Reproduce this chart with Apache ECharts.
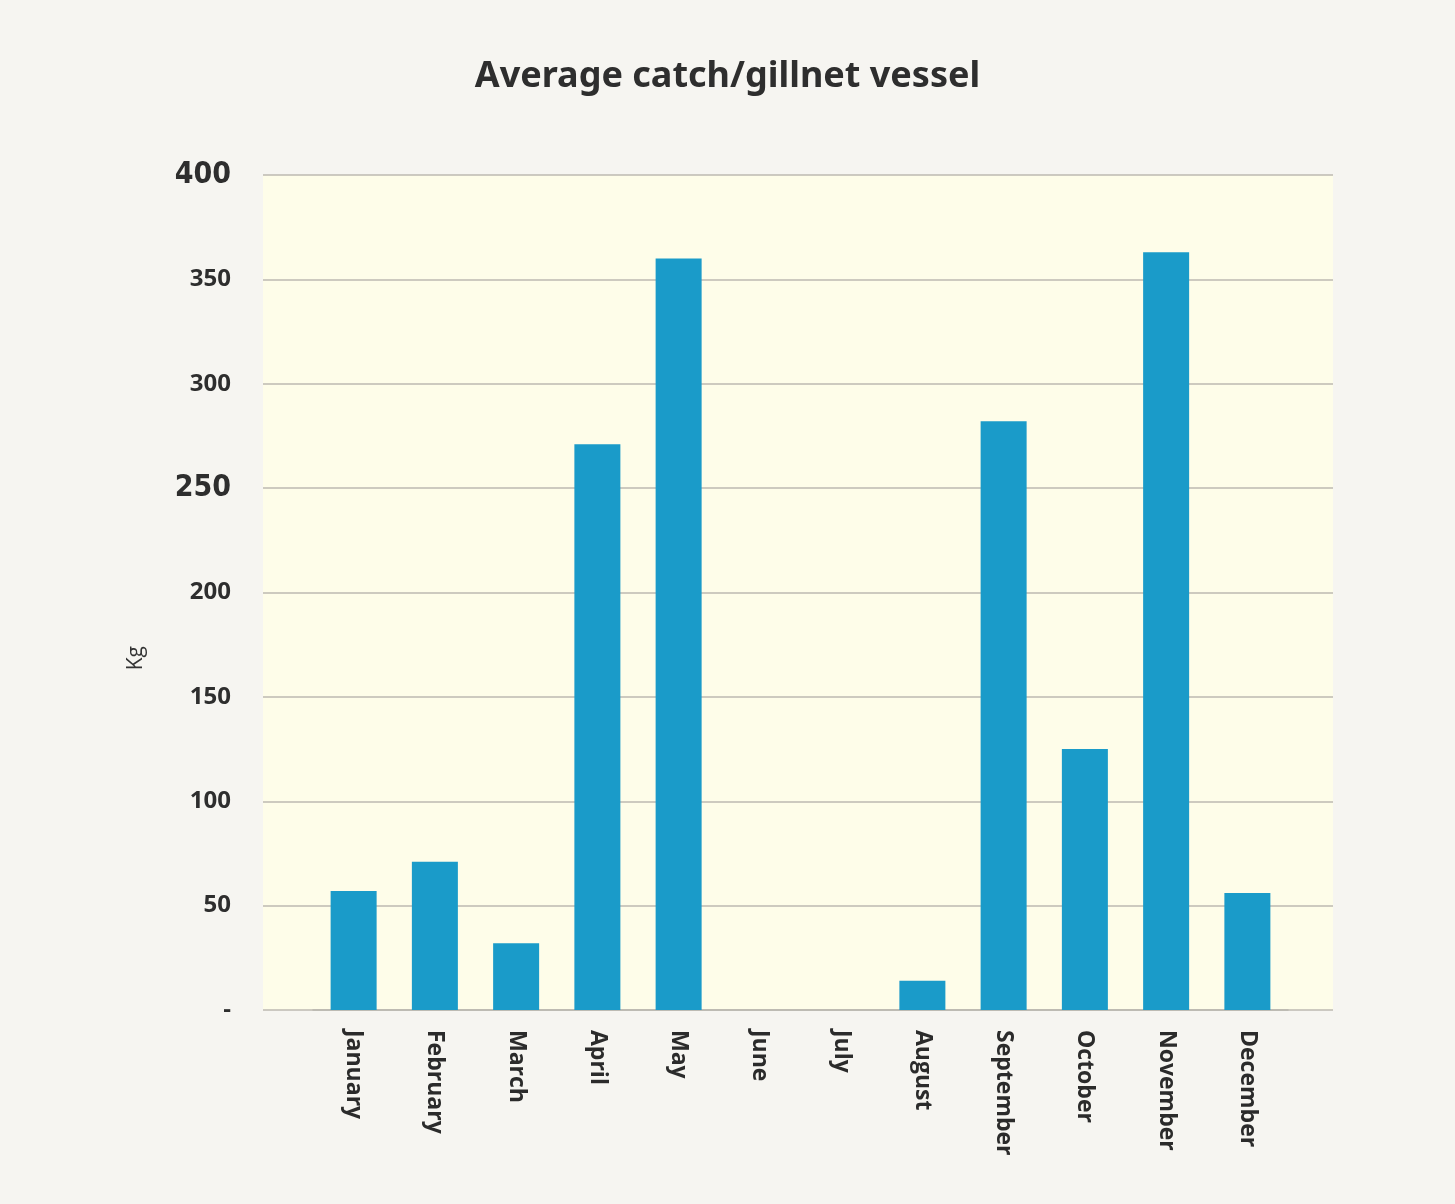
<!DOCTYPE html>
<html>
<head>
<meta charset="utf-8">
<script src="https://cdn.jsdelivr.net/npm/echarts@6/dist/echarts.min.js"></script>
<style>
  html, body { margin: 0; padding: 0; background: #f6f5f1; }
  #chart { width: 1455px; height: 1204px; }
</style>
</head>
<body>
<div id="chart"></div>
<script>
const months = ['January', 'February', 'March', 'April', 'May', 'June',
  'July', 'August', 'September', 'October', 'November', 'December']
const catchKg = [57, 71, 32, 271, 360, 0, 0, 14, 282, 125, 363, 56]
const yTicks = [0, 50, 100, 150, 200, 250, 300, 350, 400]
const bigTicks = [400, 250]

const chart = echarts.init(document.getElementById('chart'))

const yMax = yTicks[yTicks.length - 1]

chart.setOption({
  backgroundColor: '#f6f5f1',
  animation: false,
  title: {
    text: 'Average catch/gillnet vessel',
    left: 'center',
    top: 54,
    textStyle: {
      fontFamily: 'Noto Sans, sans-serif',
      fontWeight: 'bold',
      fontSize: 36,
      color: '#2e2e2e'
    }
  },
  graphic: [{
    type: 'text',
    left: 126, top: 646,
    rotation: Math.PI / 2,
    style: { text: 'Kg', fontSize: 21, fontFamily: 'Open Sans, sans-serif', fill: '#333' }
  }],
  grid: [
    // grid lines + y labels
    { left: 263, right: 122, top: 175, bottom: 194, show: true,
      backgroundColor: '#fefde9', borderWidth: 0 },
    // bars + category axis
    { left: 313, right: 167, top: 175, bottom: 194 }
  ],
  xAxis: [
    { type: 'value', gridIndex: 0, show: false, min: 0, max: 1 },
    {
      type: 'category', gridIndex: 1, data: months,
      axisLine: { lineStyle: { color: '#b9b6ae', width: 1.5 } },
      axisTick: { show: false },
      axisLabel: {
        rotate: -90, margin: 20, interval: 0,
        fontFamily: 'Open Sans, sans-serif', fontWeight: 'bold',
        fontSize: 23, color: '#2b2b2b'
      }
    }
  ],
  yAxis: [
    {
      type: 'value', gridIndex: 0, min: 0, max: yMax, interval: 50,
      axisLine: { show: false }, axisTick: { show: false },
      splitLine: { lineStyle: { color: '#bdb9b0', width: 1.5 } },
      axisLabel: {
        margin: 32,
        fontFamily: 'Open Sans, sans-serif', fontWeight: 'bold',
        fontSize: 24, color: '#2e2e2e',
        formatter: v => v === 0 ? '-' : (bigTicks.includes(v) ? '{big|' + v + '}' : String(v)),
        rich: {
          big: {
            fontFamily: 'DejaVu Sans Condensed, Noto Sans, sans-serif', fontWeight: 'bold',
            fontSize: 30, color: '#2e2e2e'
          }
        }
      }
    },
    { type: 'value', gridIndex: 1, min: 0, max: yMax, show: false, splitLine: { show: false } }
  ],
  series: [{
    type: 'bar',
    xAxisIndex: 1, yAxisIndex: 1,
    data: catchKg,
    barWidth: 46,
    itemStyle: { color: '#1a9bc9' }
  }]
})
</script>
</body>
</html>
